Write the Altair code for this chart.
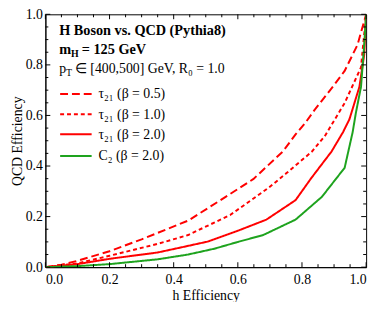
import altair as alt
import pandas as pd

# ---------------- data ----------------
series_names = ["τ₂₁ (β = 0.5)", "τ₂₁ (β = 1.0)", "τ₂₁ (β = 2.0)", "C₂ (β = 2.0)"]
series_colors = ["#ff0000", "#ff0000", "#ff0000", "#1ea31e"]
series_dashes = [[8, 4], [4, 3], [1, 0], [1, 0]]

dash05_x = [0.0, 0.05, 0.1, 0.2, 0.3, 0.445, 0.546, 0.648, 0.74, 0.78, 0.81, 0.84, 0.9, 0.933, 0.973, 1.0]
dash05_y = [0.0, 0.01, 0.025, 0.063, 0.11, 0.184, 0.265, 0.348, 0.457, 0.525, 0.57, 0.623, 0.72, 0.776, 0.879, 1.0]

dot10_x = [0.0, 0.1, 0.2, 0.35, 0.445, 0.577, 0.698, 0.75, 0.831, 0.872, 0.933, 0.984, 1.0]
dot10_y = [0.0, 0.015, 0.045, 0.092, 0.127, 0.207, 0.316, 0.37, 0.457, 0.52, 0.649, 0.79, 1.0]

sol20_x = [0.0, 0.1, 0.2, 0.35, 0.506, 0.598, 0.689, 0.78, 0.83, 0.892, 0.928, 0.948, 0.979, 0.994, 1.0]
sol20_y = [0.0, 0.012, 0.033, 0.058, 0.101, 0.143, 0.188, 0.265, 0.354, 0.457, 0.534, 0.585, 0.713, 0.84, 1.0]

c2_x = [0.0, 0.1, 0.2, 0.35, 0.445, 0.527, 0.598, 0.679, 0.78, 0.862, 0.933, 0.958, 0.968, 0.984, 0.994, 1.0]
c2_y = [0.0, 0.004, 0.012, 0.031, 0.05, 0.073, 0.099, 0.127, 0.188, 0.278, 0.393, 0.534, 0.61, 0.713, 0.88, 1.0]

major_ticks = [0.0, 0.2, 0.4, 0.6, 0.8, 1.0]
minor_ticks = [0.05, 0.1, 0.15, 0.25, 0.3, 0.35, 0.45, 0.5, 0.55, 0.65, 0.7, 0.75, 0.85, 0.9, 0.95]

header_1 = "H Boson vs. QCD (Pythia8)"
header_2 = ["m", "H", "= 125 GeV"]
header_3 = ["p", "T", "∈ [400,500] GeV, R₀ = 1.0"]
x_title = "h Efficiency"
y_title = "QCD Efficiency"

# ---------------- build tables ----------------
rows = []
for name, xs, ys in zip(series_names,
                        [dash05_x, dot10_x, sol20_x, c2_x],
                        [dash05_y, dot10_y, sol20_y, c2_y]):
    for i, (a, b) in enumerate(zip(xs, ys)):
        rows.append({"series": name, "x": a, "y": b, "order": i})
df = pd.DataFrame(rows)

W, H = 326, 257
FONT = "Liberation Serif"

xscale = alt.Scale(domain=[0, 1], nice=False, zero=False)
yscale = alt.Scale(domain=[0, 1], nice=False, zero=False)

xaxis = alt.Axis(title=x_title, values=major_ticks, format=".1f", labelPadding=6, titlePadding=2)
yaxis = alt.Axis(title=y_title, values=major_ticks, format=".1f", labelPadding=3, titlePadding=1)

curves = alt.Chart(df).mark_line(strokeWidth=2, clip=True, strokeJoin="round").encode(
    x=alt.X("x:Q", scale=xscale, axis=xaxis),
    y=alt.Y("y:Q", scale=yscale, axis=yaxis),
    color=alt.Color("series:N", scale=alt.Scale(domain=series_names, range=series_colors), legend=None),
    strokeDash=alt.StrokeDash("series:N", scale=alt.Scale(domain=series_names, range=series_dashes), legend=None),
    order="order:Q",
)

layers = [curves]

# inward ticks on all four sides
for vals, length in [(major_ticks, 5), (minor_ticks, 3)]:
    tdf = pd.DataFrame({"x": vals, "y": vals})
    base = alt.Chart(tdf).mark_rule(color="black", strokeWidth=1)
    layers.append(base.encode(x=alt.X("x:Q", scale=xscale, axis=xaxis), y=alt.value(H), y2=alt.value(H - length)))
    layers.append(base.encode(x=alt.X("x:Q", scale=xscale, axis=xaxis), y=alt.value(0), y2=alt.value(length)))
    layers.append(base.encode(y=alt.Y("y:Q", scale=yscale, axis=yaxis), x=alt.value(0), x2=alt.value(length)))
    layers.append(base.encode(y=alt.Y("y:Q", scale=yscale, axis=yaxis), x=alt.value(W), x2=alt.value(W - length)))


def txt(s, x, y, size=14, weight="normal", style="normal"):
    return alt.Chart(pd.DataFrame({"s": [s]})).mark_text(
        align="left", baseline="alphabetic", font=FONT, fontSize=size,
        fontWeight=weight, fontStyle=style, color="black"
    ).encode(x=alt.value(x), y=alt.value(y), text="s:N")


# header text (positions relative to the plot area)
layers.append(txt(header_1, 14, 21, size=14.5, weight="bold"))
layers.append(txt(header_2[0], 14, 40.5, size=14.5, weight="bold"))
layers.append(txt(header_2[1], 26, 43, size=10, weight="bold"))
layers.append(txt(header_2[2], 37, 40.5, size=14.5, weight="bold"))
layers.append(txt(header_3[0], 14, 60, size=14))
layers.append(txt(header_3[1], 21, 63, size=10))
layers.append(txt(header_3[2], 30, 60, size=14))

# manual legend
leg_y = [81, 101.5, 122, 144]
for name, col, dash, yy in zip(series_names, series_colors, series_dashes, leg_y):
    layers.append(
        alt.Chart(pd.DataFrame({"s": [name]})).mark_rule(color=col, strokeWidth=2, strokeDash=dash)
        .encode(x=alt.value(15), x2=alt.value(47), y=alt.value(yy))
    )
    layers.append(txt(name, 54, yy + 4.5, size=14))

chart = alt.layer(*layers).properties(
    width=W, height=H,
    autosize=alt.AutoSizeParams(type="none"),
    padding={"left": 38, "top": 4, "right": 8, "bottom": 33},
    background="white",
).configure_view(
    stroke="black", strokeWidth=1
).configure_axis(
    ticks=False, tickSize=0, grid=False, domainColor="black", domainWidth=1,
    labelFont=FONT, labelFontSize=14, labelColor="black",
    titleFont=FONT, titleFontSize=14, titleFontWeight="normal", titleColor="black",
)

chart.save("out.html", embed_options={"renderer": "svg", "actions": False})
